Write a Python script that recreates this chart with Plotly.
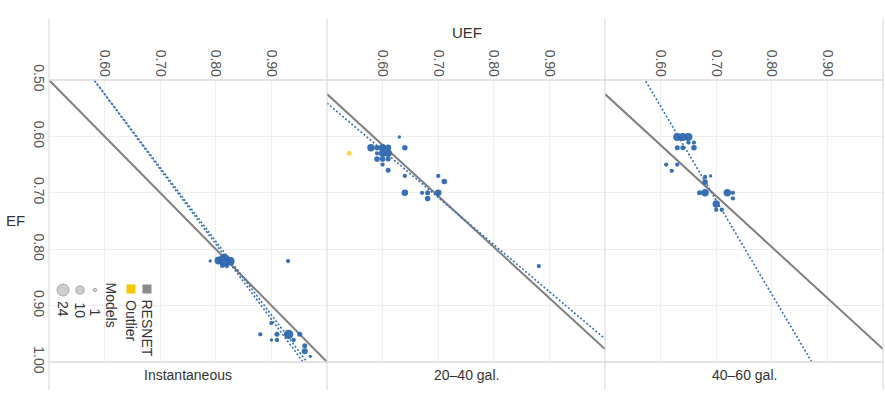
import plotly.graph_objects as go

# ---------------- data ----------------
panels = ["Instantaneous", "20\u201340 gal.", "40\u201360 gal."]
uef_ticks = [0.60, 0.70, 0.80, 0.90]
uef_tick_labels = ["0.60", "0.70", "0.80", "0.90"]
ef_ticks = [0.50, 0.60, 0.70, 0.80, 0.90, 1.00]
ef_tick_labels = ["0.50", "0.60", "0.70", "0.80", "0.90", "1.00"]

# Instantaneous
uef_inst = [0.790, 0.805, 0.815, 0.826, 0.812, 0.820, 0.930, 0.900, 0.880, 0.910, 0.900, 0.910,
            0.931, 0.940, 0.951, 0.960, 0.960, 0.970]
ef_inst = [0.821, 0.820, 0.819, 0.821, 0.829, 0.830, 0.821, 0.931, 0.951, 0.951, 0.961, 0.961,
           0.951, 0.961, 0.951, 0.971, 0.981, 0.990]
n_inst = [1, 10, 24, 12, 3, 2, 2, 2, 2, 3, 1, 2, 14, 2, 3, 3, 5, 1]

# 20-40 gal.
uef_20 = [0.630, 0.579, 0.590, 0.600, 0.610, 0.640, 0.590, 0.600, 0.610, 0.590, 0.600, 0.610,
          0.600, 0.610, 0.640, 0.700, 0.711, 0.640, 0.671, 0.681, 0.700, 0.681, 0.881]
ef_20 = [0.601, 0.620, 0.620, 0.620, 0.620, 0.620, 0.630, 0.630, 0.630, 0.640, 0.640, 0.640,
         0.650, 0.660, 0.670, 0.670, 0.680, 0.700, 0.700, 0.700, 0.700, 0.710, 0.830]
n_20 = [1, 8, 4, 8, 5, 4, 2, 8, 8, 4, 4, 3, 2, 3, 2, 2, 4, 6, 2, 3, 6, 4, 2]

# 40-60 gal.
uef_40 = [0.630, 0.640, 0.650, 0.650, 0.660, 0.630, 0.640, 0.660, 0.610, 0.620, 0.630, 0.680,
          0.690, 0.680, 0.670, 0.680, 0.720, 0.730, 0.730, 0.700, 0.700, 0.710]
ef_40 = [0.601, 0.601, 0.601, 0.611, 0.611, 0.620, 0.620, 0.620, 0.650, 0.661, 0.650, 0.672,
         0.670, 0.681, 0.700, 0.700, 0.700, 0.700, 0.710, 0.720, 0.730, 0.730]
n_40 = [10, 10, 10, 2, 2, 3, 3, 4, 2, 2, 2, 2, 1, 4, 3, 8, 8, 2, 2, 8, 2, 2]

# Outlier (20-40 gal.)
uef_out = [0.540]
ef_out = [0.630]
n_out = [3]

# Linear trend fits (EF = intercept + slope * UEF)
trend_slope = [[1.3055, 1.3298], [0.836], [1.6667]]
trend_intercept = [[-0.2585, -0.2726], [0.123], [-0.4533]]
# RESNET conversion lines
resnet_slope = [1.000, 0.904, 0.904]
resnet_intercept = [0.000, 0.073, 0.073]

legend_sizes = [1, 10, 24]
legend_size_labels = ["1", "10", "24"]

# ---------------- styling ----------------
W, H = 885, 402
ML, MR, MT, MB = 49, 2, 80, 40
BLUE = "#2e68b0"
LINE_BLUE = "#3570ba"
GRAY = "#7f7f7f"
YELLOW = "#f7c600"
FONT = "Liberation Sans, Arial, sans-serif"


def diam(v):
    return 2.2 * (v ** 0.5) + 1.2


def msize(n):
    return [diam(v) for v in n]


def pxp(x):
    return (x - ML) / (W - ML - MR)


def pyp(y):
    return (H - MB - y) / (H - MT - MB)


fig = go.Figure()

data = [(uef_inst, ef_inst, n_inst), (uef_20, ef_20, n_20), (uef_40, ef_40, n_40)]
x0, x1 = 0.5, 1.0
for i in range(3):
    xa = "x" if i == 0 else f"x{i+1}"
    ya = "y" if i == 0 else f"y{i+1}"
    # RESNET line
    fig.add_trace(go.Scatter(
        x=[x0, x1],
        y=[resnet_intercept[i] + resnet_slope[i] * x0, resnet_intercept[i] + resnet_slope[i] * x1],
        mode="lines", line=dict(color=GRAY, width=2), xaxis=xa, yaxis=ya,
        showlegend=False, hoverinfo="skip"))
    # trend lines
    for s, b in zip(trend_slope[i], trend_intercept[i]):
        fig.add_trace(go.Scatter(
            x=[x0, x1], y=[b + s * x0, b + s * x1],
            mode="lines", line=dict(color=LINE_BLUE, width=1.6, dash="2px,2px"),
            xaxis=xa, yaxis=ya, showlegend=False, hoverinfo="skip"))
    u, e, n = data[i]
    fig.add_trace(go.Scatter(
        x=u, y=e, mode="markers",
        marker=dict(color=BLUE, size=msize(n), line=dict(width=0), opacity=0.95),
        xaxis=xa, yaxis=ya, showlegend=False))
    if i == 1:
        fig.add_trace(go.Scatter(
            x=uef_out, y=ef_out, mode="markers",
            marker=dict(color=YELLOW, size=msize(n_out), line=dict(width=0)),
            xaxis=xa, yaxis=ya, showlegend=False))

axis_common = dict(range=[0.5, 1.0], showgrid=True, gridcolor="#eeeeee", gridwidth=1,
                   zeroline=False, showline=False, ticks="", fixedrange=True, automargin=False)
layout = dict(
    width=W, height=H,
    margin=dict(l=ML, r=MR, t=MT, b=MB, pad=0, autoexpand=False),
    plot_bgcolor="white", paper_bgcolor="white",
    font=dict(family=FONT, size=14, color="#555555"),
    showlegend=False,
)
for i in range(3):
    key = "xaxis" if i == 0 else f"xaxis{i+1}"
    layout[key] = dict(axis_common, domain=[i / 3, (i + 1) / 3], side="top",
                       anchor="y" if i == 0 else f"y{i+1}",
                       tickvals=uef_ticks, ticktext=uef_tick_labels, tickangle=90,
                       tickfont=dict(size=14, color="#555555"))
    ykey = "yaxis" if i == 0 else f"yaxis{i+1}"
    layout[ykey] = dict(range=[1.0, 0.5], showgrid=True, gridcolor="#eeeeee", zeroline=False,
                        showline=False, ticks="", fixedrange=True, automargin=False,
                        anchor="x" if i == 0 else f"x{i+1}",
                        tickvals=ef_ticks, ticktext=ef_tick_labels, tickangle=90,
                        showticklabels=(i == 0),
                        tickfont=dict(size=14, color="#555555"))
fig.update_layout(**layout)

shapes = []
# panel separators
for k in range(4):
    shapes.append(dict(type="line", xref="paper", yref="paper", x0=k / 3, x1=k / 3,
                       y0=pyp(390), y1=pyp(19), line=dict(color="#d6d6d6", width=1)))
# top / bottom borders
for yy in [0, 1]:
    shapes.append(dict(type="line", xref="paper", yref="paper", x0=0, x1=1, y0=yy, y1=yy,
                       line=dict(color="#dadada", width=1.5)))

annotations = []


def ann(text, x, y, size=14, angle=0, color="#333333"):
    annotations.append(dict(text=text, xref="paper", yref="paper", x=pxp(x), y=pyp(y),
                            xanchor="center", yanchor="middle", textangle=angle,
                            showarrow=False, font=dict(size=size, color=color)))


ann("UEF", 467, 33, size=15)
ann("EF", 15, 220, size=15)
for i, name in enumerate(panels):
    cx = ML + (i + 0.5) * (W - ML - MR) / 3
    ann(name, cx, 375)

# legend (rotated)
sq = 4.5
for cx, color, label, ty in [(147, "#8a8a8a", "RESNET", 327.5), (131, YELLOW, "Outlier", 321)]:
    shapes.append(dict(type="rect", xref="paper", yref="paper",
                       x0=pxp(cx - sq), x1=pxp(cx + sq), y0=pyp(289 + sq), y1=pyp(289 - sq),
                       fillcolor=color, line=dict(width=0)))
    ann(label, cx, ty, angle=90)
ann("Models", 111, 304.5, angle=90)
for cx, n, lab, ty in zip([95, 80, 63], legend_sizes, legend_size_labels, [312.5, 310.5, 309]):
    d = diam(n)
    shapes.append(dict(type="circle", xref="paper", yref="paper",
                       xsizemode="pixel", ysizemode="pixel",
                       xanchor=pxp(cx), yanchor=pyp(290),
                       x0=-d / 2, x1=d / 2, y0=-d / 2, y1=d / 2,
                       fillcolor="#cfcfcf", line=dict(color="#a9a9a9", width=1)))
    ann(lab, cx, ty, angle=90)

fig.update_layout(shapes=shapes, annotations=annotations)
fig.write_html("out.html", config={"displayModeBar": False},
               post_script="document.body.style.margin='0';")
